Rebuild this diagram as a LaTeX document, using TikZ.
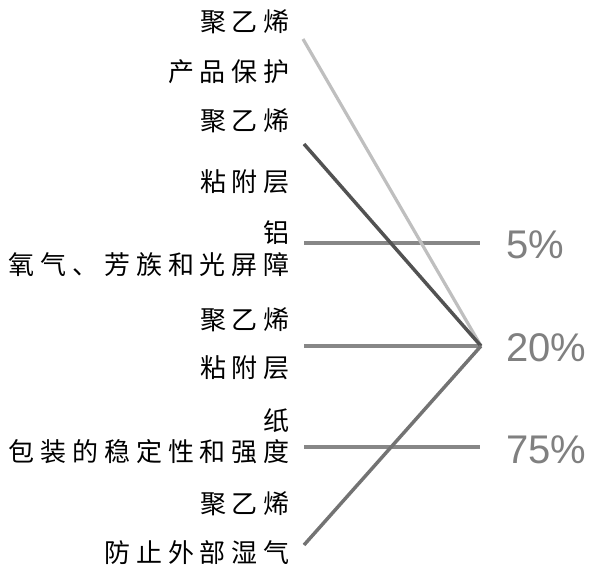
\documentclass[tikz,border=0pt]{standalone}
\usepackage{fontspec}
\setmainfont{Liberation Sans}
\newfontfamily\cjk{Noto Sans CJK SC}
\newcommand{\gp}{\hspace{4.4pt}}
\begin{document}
\begin{tikzpicture}[x=0.75pt,y=-0.75pt,
  lbl/.style={anchor=east,inner sep=0pt,font=\cjk\fontsize{19.5pt}{20pt}\selectfont},
  pct/.style={anchor=west,inner sep=0pt,text=black!50,font=\fontsize{30pt}{32pt}\selectfont},
  hline/.style={draw=black!47,line width=3pt},
  lightl/.style={draw=black!25,line width=2.4pt},
  darkl/.style={draw=black!68,line width=2.6pt},
  midl/.style={draw=black!55,line width=2.6pt}]
\useasboundingbox (0,0) rectangle (600,578);
% labels
\node[lbl] (t1) at (290,22) {聚\gp 乙\gp 烯};
\node[lbl] (t2) at (290,72) {产\gp 品\gp 保\gp 护};
\node[lbl] (t3) at (290,121) {聚\gp 乙\gp 烯};
\node[lbl] (t4) at (290,182) {粘\gp 附\gp 层};
\node[lbl] (t5) at (290,233) {铝};
\node[lbl] (t6) at (290,265) {氧\gp 气\gp 、\gp 芳\gp 族\gp 和\gp 光\gp 屏\gp 障};
\node[lbl] (t7) at (290,320) {聚\gp 乙\gp 烯};
\node[lbl] (t8) at (290,368) {粘\gp 附\gp 层};
\node[lbl] (t9) at (290,421) {纸};
\node[lbl] (t10) at (290,452) {包\gp 装\gp 的\gp 稳\gp 定\gp 性\gp 和\gp 强\gp 度};
\node[lbl] (t11) at (290,504) {聚\gp 乙\gp 烯};
\node[lbl] (t12) at (290,553) {防\gp 止\gp 外\gp 部\gp 湿\gp 气};
% percentages
\node[pct] (p5) at (506,245) {5\%};
\node[pct] (p20) at (506,348) {20\%};
\node[pct] (p75) at (506,450) {75\%};
% coordinates
\coordinate (apex) at (481,346);
\coordinate (a1) at (303,39);
\coordinate (a2) at (304,144);
\coordinate (a3) at (304,545);
\coordinate (h1a) at (304,243);
\coordinate (h1b) at (480,243);
\coordinate (h2a) at (304,346);
\coordinate (h3a) at (304,447);
\coordinate (h3b) at (480,447);
% lines
\draw[hline] (h1a) -- (h1b);
\draw[hline] (h2a) -- (apex);
\draw[hline] (h3a) -- (h3b);
\draw[lightl] (a1) -- (apex);
\draw[darkl] (a2) -- (apex);
\draw[midl] (a3) -- (apex);
\end{tikzpicture}
\end{document}
